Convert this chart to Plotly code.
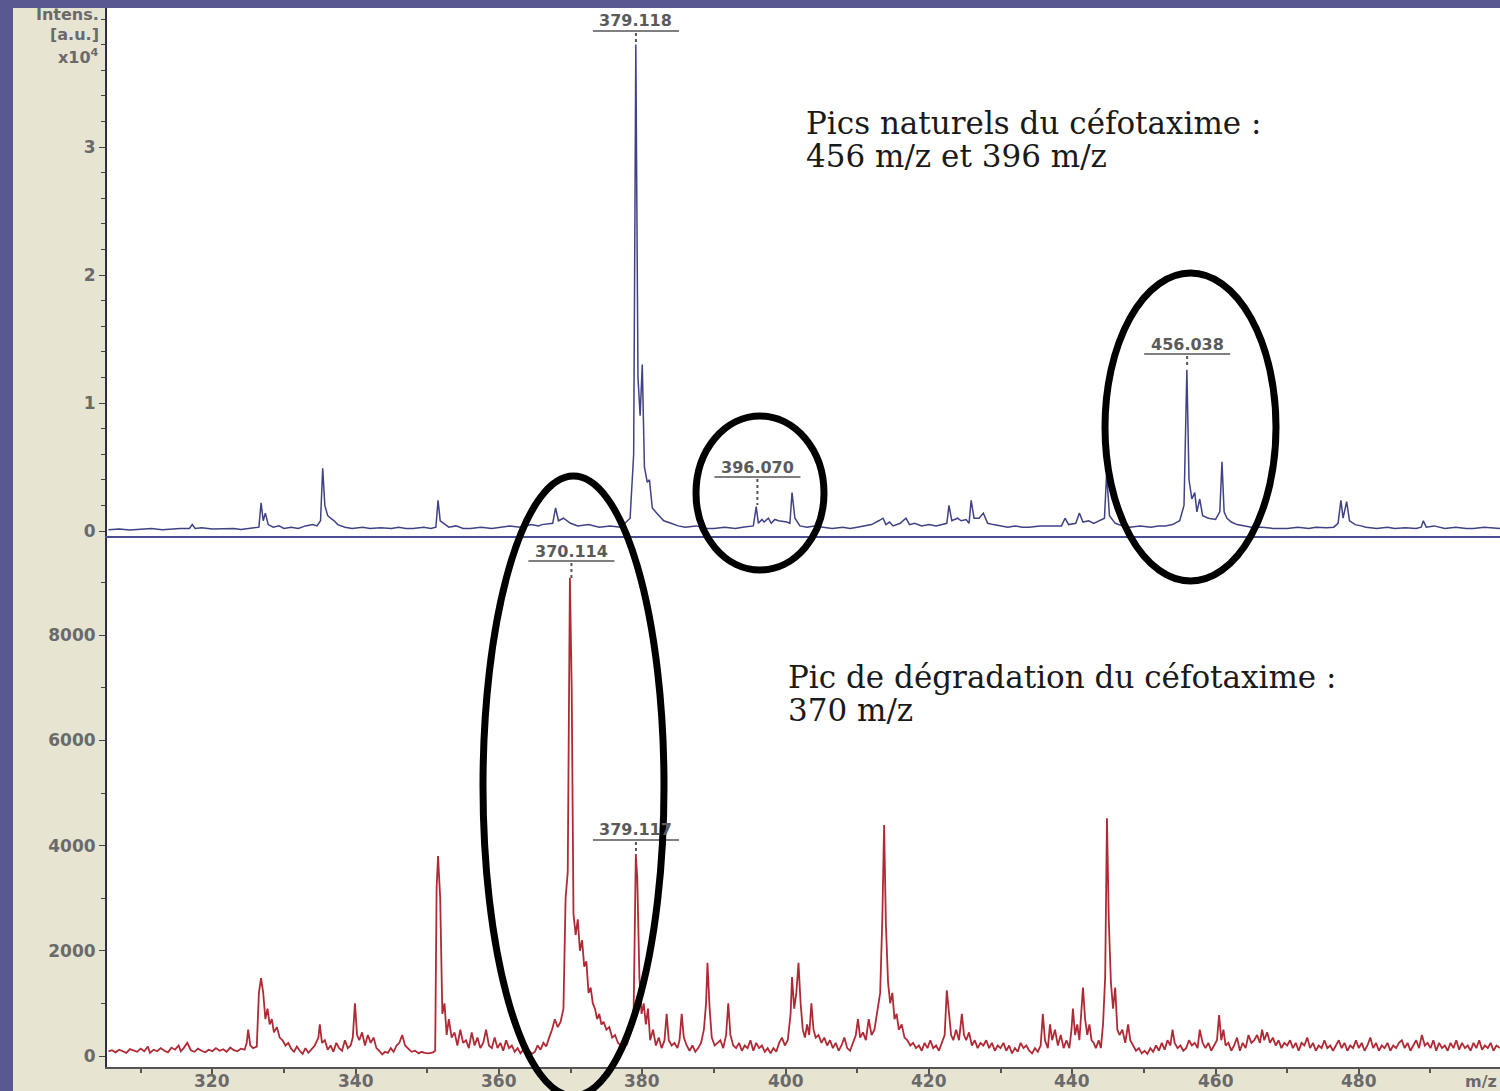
import plotly.graph_objects as go

# ---------------- DATA ----------------
x_tick_vals = [320, 340, 360, 380, 400, 420, 440, 460, 480]
x_tick_text = ["320", "340", "360", "380", "400", "420", "440", "460", "480"]
top_tick_vals = [0, 1, 2, 3]
bottom_tick_vals = [0, 2000, 4000, 6000, 8000]

# Top spectrum (blue), intensity in units of 1e4 a.u.
blue_spectrum = [
    (305.5, 0.01), (307, 0.015), (308.5, 0.008), (310, 0.012), (311.5, 0.02), (313, 0.01),
    (314, 0.015), (315.5, 0.02), (316.8, 0.02), (317.2, 0.05), (317.6, 0.02), (318.5, 0.025),
    (320, 0.015), (321.5, 0.02), (323, 0.02), (324, 0.012), (325, 0.02), (326.5, 0.03),
    (326.8, 0.22), (327.1, 0.08), (327.4, 0.14), (327.8, 0.05), (328.5, 0.03), (329.3, 0.04),
    (330, 0.02), (331, 0.03), (332, 0.02), (333, 0.04), (334, 0.05), (334.6, 0.04),
    (335.1, 0.08), (335.4, 0.49), (335.7, 0.2), (336.1, 0.12), (336.5, 0.1), (337, 0.08),
    (337.5, 0.05), (338.5, 0.03), (339.5, 0.02), (341, 0.03), (342, 0.02), (343.5, 0.025),
    (345, 0.02), (346, 0.03), (347, 0.02), (348, 0.02), (349.5, 0.03), (350.5, 0.02),
    (351.2, 0.03), (351.5, 0.24), (351.8, 0.08), (352.3, 0.06), (353, 0.03), (354, 0.04),
    (355, 0.02), (356, 0.02), (357.5, 0.03), (359, 0.02), (360, 0.03), (361.5, 0.04),
    (363, 0.03), (364.5, 0.05), (365.5, 0.04), (366, 0.05), (367.5, 0.06), (367.9, 0.18),
    (368.3, 0.08), (369, 0.1), (370, 0.06), (371, 0.04), (372.5, 0.05), (374, 0.03),
    (375.5, 0.04), (377, 0.03), (378.3, 0.1), (378.8, 0.6), (379.1, 3.80), (379.4, 1.2),
    (379.7, 0.9), (380.0, 1.3), (380.3, 0.5), (380.7, 0.38), (381.0, 0.4), (381.4, 0.18),
    (382, 0.14), (382.6, 0.1), (383, 0.08), (384, 0.06), (385, 0.04), (386, 0.03),
    (387.5, 0.04), (389, 0.02), (390, 0.02), (391.5, 0.03), (393, 0.02), (394, 0.03),
    (395.5, 0.04), (395.9, 0.19), (396.2, 0.06), (396.7, 0.09), (397, 0.07), (397.6, 0.1),
    (398, 0.06), (398.5, 0.09), (399, 0.08), (400.2, 0.07), (400.6, 0.06), (400.9, 0.3),
    (401.3, 0.1), (402, 0.04), (403, 0.03), (404, 0.04), (405, 0.03), (406.5, 0.02),
    (408, 0.03), (409, 0.02), (410, 0.03), (411, 0.04), (412, 0.05), (413, 0.08),
    (413.6, 0.1), (414, 0.05), (414.5, 0.07), (415, 0.04), (416, 0.06), (416.8, 0.1),
    (417.3, 0.05), (418, 0.06), (419, 0.04), (420, 0.05), (421, 0.04), (422.5, 0.06),
    (422.8, 0.2), (423.2, 0.08), (424, 0.1), (424.5, 0.08), (425.2, 0.09), (425.6, 0.06),
    (425.9, 0.24), (426.3, 0.1), (427, 0.1), (427.6, 0.14), (428.2, 0.06), (429, 0.05),
    (430, 0.04), (431, 0.03), (432, 0.04), (433, 0.03), (434, 0.03), (435.5, 0.04),
    (437, 0.04), (438.5, 0.04), (439, 0.1), (439.5, 0.05), (440.5, 0.06), (441, 0.14),
    (441.5, 0.07), (442.3, 0.08), (443, 0.06), (444.5, 0.1), (444.8, 0.45), (445.2, 0.12),
    (446, 0.06), (447, 0.04), (448, 0.03), (449.5, 0.04), (451, 0.03), (452, 0.04),
    (453, 0.04), (454, 0.05), (455, 0.08), (455.6, 0.2), (456.0, 1.26), (456.3, 0.4),
    (456.7, 0.25), (457.1, 0.3), (457.4, 0.15), (457.8, 0.25), (458.2, 0.12), (459, 0.1),
    (460, 0.09), (460.6, 0.15), (460.9, 0.54), (461.2, 0.15), (461.6, 0.1), (462.2, 0.07),
    (463, 0.05), (464, 0.04), (465, 0.03), (466.5, 0.03), (468, 0.02), (470, 0.02),
    (471.5, 0.03), (473, 0.02), (474, 0.03), (475.5, 0.025), (476.5, 0.03), (477.1, 0.06),
    (477.5, 0.24), (477.8, 0.1), (478.3, 0.23), (478.7, 0.08), (479.5, 0.05), (480.3, 0.04),
    (481, 0.03), (482.5, 0.02), (484, 0.03), (485, 0.02), (486.5, 0.025), (488, 0.02),
    (488.7, 0.03), (489, 0.08), (489.4, 0.03), (490.5, 0.04), (492, 0.02), (493.5, 0.03),
    (495, 0.02), (496, 0.02), (497.5, 0.03), (499.7, 0.02),
]

# Bottom spectrum (red), intensity in a.u.
red_spectrum = [
    (305.5, 90), (306, 110), (306.5, 70), (307, 120), (307.5, 90), (308, 60), (308.5, 130),
    (309, 100), (309.5, 80), (310, 140), (310.5, 90), (311, 180), (311.3, 60), (311.8, 120),
    (312.3, 90), (312.8, 150), (313.3, 100), (313.8, 70), (314.3, 160), (314.8, 120),
    (315.3, 200), (315.6, 90), (316, 150), (316.5, 250), (317, 110), (317.5, 80), (318, 140),
    (318.5, 100), (319, 70), (319.5, 120), (320, 90), (320.5, 150), (321, 100), (321.5, 130),
    (322, 80), (322.5, 160), (323, 110), (323.5, 90), (324, 140), (324.5, 120), (324.8, 250),
    (325, 500), (325.3, 200), (325.7, 150), (326.2, 180), (326.5, 1200), (326.8, 1480),
    (327.1, 1200), (327.4, 700), (327.7, 900), (328, 600), (328.3, 700), (328.6, 450),
    (329, 550), (329.4, 350), (329.8, 300), (330.2, 200), (330.6, 250), (331, 140),
    (331.4, 80), (331.8, 180), (332.2, 100), (332.6, 40), (333, 150), (333.4, 60),
    (333.8, 120), (334.3, 200), (334.8, 350), (335, 600), (335.3, 250), (335.7, 300),
    (336.1, 120), (336.5, 200), (336.9, 80), (337.3, 250), (337.7, 150), (338.1, 100),
    (338.5, 300), (338.9, 150), (339.3, 200), (339.6, 350), (339.9, 1000), (340.2, 400),
    (340.5, 300), (340.9, 450), (341.3, 200), (341.7, 400), (342.1, 250), (342.5, 350),
    (342.9, 150), (343.3, 100), (343.7, 30), (344.1, 80), (344.5, 60), (344.9, 150),
    (345.3, 80), (345.7, 200), (346.1, 250), (346.5, 400), (346.9, 200), (347.3, 150),
    (347.8, 80), (348.3, 100), (348.8, 50), (349.2, 80), (349.6, 60), (350.2, 50),
    (350.8, 70), (351.1, 100), (351.3, 3200), (351.5, 3800), (351.8, 3000), (352.1, 800),
    (352.4, 1000), (352.7, 400), (353, 700), (353.4, 350), (353.8, 450), (354.2, 200),
    (354.6, 500), (355, 250), (355.4, 300), (355.8, 150), (356.2, 450), (356.6, 200),
    (357, 350), (357.4, 150), (357.8, 250), (358.2, 500), (358.6, 200), (359, 150),
    (359.4, 350), (359.8, 150), (360.2, 250), (360.6, 100), (361, 300), (361.4, 150),
    (361.8, 200), (362.2, 80), (362.6, 150), (363, 50), (363.4, 120), (363.8, 60),
    (364.2, 100), (364.6, 40), (365, 80), (365.4, 200), (365.8, 120), (366.2, 250),
    (366.6, 180), (367, 350), (367.4, 500), (367.8, 700), (368.2, 550), (368.6, 650),
    (369, 900), (369.3, 3000), (369.6, 3500), (369.9, 9090), (370.15, 7000), (370.4, 2700),
    (370.7, 2300), (371, 2600), (371.3, 2000), (371.6, 2200), (371.9, 1700), (372.2, 1800),
    (372.5, 1200), (372.8, 1300), (373.1, 1000), (373.4, 900), (373.7, 700), (374, 800),
    (374.3, 600), (374.6, 650), (375, 500), (375.4, 550), (375.8, 350), (376.2, 400),
    (376.6, 250), (377, 200), (377.4, 300), (377.8, 200), (378.2, 350), (378.5, 500),
    (378.8, 900), (379.1, 3820), (379.3, 3400), (379.6, 1500), (379.9, 800), (380.2, 1000),
    (380.5, 600), (380.8, 900), (381.1, 300), (381.5, 500), (381.9, 200), (382.3, 350),
    (382.7, 150), (383.1, 300), (383.4, 800), (383.7, 300), (384.1, 200), (384.5, 250),
    (384.9, 150), (385.2, 300), (385.5, 800), (385.8, 350), (386.2, 200), (386.6, 100),
    (387, 200), (387.4, 80), (387.8, 150), (388.2, 250), (388.6, 500), (388.9, 1000),
    (389.1, 1770), (389.4, 900), (389.7, 350), (390.1, 200), (390.5, 250), (390.9, 300),
    (391.3, 150), (391.7, 400), (392, 1000), (392.3, 400), (392.7, 200), (393.1, 150),
    (393.5, 250), (393.9, 100), (394.3, 200), (394.7, 150), (395.1, 300), (395.5, 100),
    (395.9, 250), (396.3, 150), (396.7, 200), (397.1, 80), (397.5, 150), (397.9, 50),
    (398.3, 150), (398.7, 80), (399.1, 250), (399.5, 350), (399.9, 200), (400.3, 300),
    (400.7, 800), (400.9, 1500), (401.2, 900), (401.5, 1200), (401.8, 1770), (402.1, 1000),
    (402.4, 500), (402.7, 350), (403, 600), (403.3, 400), (403.6, 1000), (403.9, 500),
    (404.2, 350), (404.6, 400), (405, 250), (405.4, 350), (405.8, 200), (406.2, 300),
    (406.6, 150), (407, 250), (407.4, 100), (407.8, 200), (408.2, 350), (408.6, 150),
    (409, 100), (409.4, 250), (409.8, 400), (410.1, 700), (410.4, 350), (410.8, 450),
    (411.2, 300), (411.6, 700), (412, 400), (412.4, 500), (412.8, 900), (413.2, 1200),
    (413.5, 2600), (413.75, 4390), (414, 2500), (414.3, 1400), (414.6, 1000), (414.9, 1200),
    (415.2, 700), (415.5, 800), (415.8, 500), (416.2, 600), (416.6, 350), (417, 300),
    (417.4, 200), (417.8, 250), (418.2, 150), (418.6, 200), (419, 100), (419.4, 250),
    (419.8, 150), (420.2, 300), (420.6, 150), (421, 200), (421.4, 100), (421.8, 250),
    (422.2, 400), (422.5, 1250), (422.8, 800), (423.1, 400), (423.4, 300), (423.8, 500),
    (424.2, 300), (424.6, 800), (424.9, 400), (425.2, 300), (425.6, 450), (426, 200),
    (426.4, 300), (426.8, 150), (427.2, 250), (427.6, 200), (428, 300), (428.4, 150),
    (428.8, 250), (429.2, 100), (429.6, 200), (430, 150), (430.4, 250), (430.8, 100),
    (431.2, 200), (431.6, 50), (432, 150), (432.4, 80), (432.8, 250), (433.2, 150),
    (433.6, 200), (434, 100), (434.4, 50), (434.8, 150), (435.2, 80), (435.6, 200),
    (435.9, 800), (436.2, 300), (436.6, 150), (436.9, 600), (437.2, 300), (437.6, 500),
    (438, 200), (438.4, 400), (438.8, 150), (439.2, 300), (439.6, 150), (439.9, 500),
    (440.1, 900), (440.4, 400), (440.7, 600), (441, 300), (441.3, 900), (441.5, 1300),
    (441.8, 700), (442.1, 400), (442.4, 600), (442.7, 300), (443, 250), (443.3, 150),
    (443.7, 300), (444, 150), (444.3, 600), (444.6, 1500), (444.85, 4520), (445.1, 2600),
    (445.4, 1400), (445.7, 900), (446, 1300), (446.3, 500), (446.6, 400), (447, 500),
    (447.4, 250), (447.8, 600), (448.1, 300), (448.5, 200), (448.9, 100), (449.3, 150),
    (449.7, 50), (450.1, 100), (450.5, 40), (450.9, 150), (451.3, 80), (451.7, 200),
    (452.1, 100), (452.5, 250), (452.9, 120), (453.3, 300), (453.7, 200), (454, 500),
    (454.3, 250), (454.7, 150), (455.1, 200), (455.5, 100), (455.9, 150), (456.3, 300),
    (456.7, 200), (457.1, 250), (457.5, 150), (457.8, 500), (458.2, 250), (458.6, 150),
    (459, 250), (459.4, 100), (459.8, 200), (460.2, 300), (460.5, 780), (460.8, 300),
    (461.1, 500), (461.4, 200), (461.8, 250), (462.2, 100), (462.6, 200), (463, 350),
    (463.4, 100), (463.8, 250), (464.2, 150), (464.6, 400), (465, 250), (465.4, 300),
    (465.8, 400), (466.2, 250), (466.5, 500), (466.8, 300), (467.2, 450), (467.6, 250),
    (468, 350), (468.4, 200), (468.8, 300), (469.2, 150), (469.6, 250), (470, 200),
    (470.4, 300), (470.8, 150), (471.2, 250), (471.6, 100), (472, 250), (472.4, 200),
    (472.8, 350), (473.2, 150), (473.6, 250), (474, 100), (474.4, 200), (474.8, 150),
    (475.2, 300), (475.6, 150), (476, 200), (476.4, 100), (476.8, 200), (477.2, 300),
    (477.6, 150), (478, 250), (478.4, 100), (478.8, 200), (479.2, 150), (479.6, 300),
    (480, 150), (480.4, 250), (480.8, 100), (481.2, 200), (481.6, 350), (482, 150),
    (482.4, 250), (482.8, 100), (483.2, 200), (483.6, 150), (484, 250), (484.4, 100),
    (484.8, 200), (485.2, 150), (485.6, 250), (486, 300), (486.4, 150), (486.8, 250),
    (487.2, 100), (487.6, 200), (488, 300), (488.4, 150), (488.8, 400), (489.2, 200),
    (489.6, 250), (490, 150), (490.4, 300), (490.8, 100), (491.2, 250), (491.6, 150),
    (492, 200), (492.4, 100), (492.8, 250), (493.2, 150), (493.6, 300), (494, 120),
    (494.4, 250), (494.8, 150), (495.2, 200), (495.6, 100), (496, 250), (496.4, 150),
    (496.8, 300), (497.2, 120), (497.6, 200), (498, 150), (498.4, 250), (498.8, 100),
    (499.2, 200), (499.7, 150),
]

# Labelled peaks: (m/z, label text)
top_peak_labels = [(379.118, "379.118"), (396.070, "396.070"), (456.038, "456.038")]
bottom_peak_labels = [(370.114, "370.114"), (379.117, "379.117")]

# ---------------- LAYOUT HELPERS ----------------
W, H = 1500, 1091
ML, MR, MT, MB = 107, 0, 8, 24
PW, PH = W - ML - MR, H - MT - MB
PLOT_BOTTOM = H - MB


def px(x):
    return (x - ML) / PW


def py(y):
    return (PLOT_BOTTOM - y) / PH


split = py(536)

blue_mz = [p[0] for p in blue_spectrum]
blue_int = [p[1] for p in blue_spectrum]
red_mz = [p[0] for p in red_spectrum]
red_int = [p[1] for p in red_spectrum]

fig = go.Figure()
fig.add_trace(go.Scatter(x=blue_mz, y=blue_int, xaxis="x2", yaxis="y2", mode="lines",
                         line=dict(color="#3f4285", width=1.5), hoverinfo="skip", showlegend=False))
fig.add_trace(go.Scatter(x=red_mz, y=red_int, xaxis="x", yaxis="y", mode="lines",
                         line=dict(color="#b02a36", width=1.8), hoverinfo="skip", showlegend=False))

sans = "DejaVu Sans, Arial, sans-serif"
tickfont = dict(family=sans, size=17, color="#6a6a6a", weight="bold")
xr = [305.3, 499.7]

fig.update_layout(
    width=W, height=H,
    margin=dict(l=ML, r=MR, t=MT, b=MB, autoexpand=False),
    paper_bgcolor="#e8e4d2",
    plot_bgcolor="#ffffff",
    showlegend=False,
    xaxis=dict(domain=[0, 1], range=xr, anchor="y", tickvals=x_tick_vals, showticklabels=False,
               ticks="outside", ticklen=5, tickcolor="#555555", tickwidth=1.5, showline=True,
               linecolor="#555555", linewidth=2, showgrid=False, zeroline=False,
               minor=dict(dtick=10, tick0=300, ticks="outside", ticklen=4, tickcolor="#555555")),
    xaxis2=dict(domain=[0, 1], range=xr, anchor="y2", matches="x", showticklabels=False,
                ticks="", showline=True, linecolor="#4a4e92", linewidth=2,
                showgrid=False, zeroline=False),
    yaxis=dict(domain=[0, split], range=[-209, 9886], tickvals=bottom_tick_vals, ticks="outside",
               ticklen=6, tickcolor="#444444", showline=True, linecolor="#2c2c55", linewidth=2,
               showgrid=False, zeroline=False, tickfont=tickfont,
               minor=dict(dtick=1000, ticks="outside", ticklen=4, tickcolor="#444444")),
    yaxis2=dict(domain=[split, 1], range=[-0.039, 4.086], tickvals=top_tick_vals, ticks="outside",
                ticklen=6, tickcolor="#444444", showline=True, linecolor="#2c2c55", linewidth=2,
                showgrid=False, zeroline=False, tickfont=tickfont,
                minor=dict(dtick=0.2, ticks="outside", ticklen=4, tickcolor="#444444")),
)

shapes = []
purple = "#5a5890"
shapes.append(dict(type="rect", xref="paper", yref="paper", x0=px(-5), x1=px(13), y0=py(H + 5),
                   y1=py(-5), fillcolor=purple, line=dict(width=0), layer="below"))
shapes.append(dict(type="rect", xref="paper", yref="paper", x0=px(-5), x1=px(W + 5), y0=py(8),
                   y1=py(-5), fillcolor=purple, line=dict(width=0), layer="below"))

annotations = []

# x tick labels placed through the x axis scale
for v, t in zip(x_tick_vals, x_tick_text):
    annotations.append(dict(x=v, y=py(1081), xref="x", yref="paper", text=t, showarrow=False,
                            font=tickfont, xanchor="center", yanchor="middle"))

label_font = dict(family=sans, size=16, color="#5a5a5a", weight="bold")
top_label_rows = {379.118: (21, 45), 396.070: (467, 505), 456.038: (344, 368)}
bottom_label_rows = {370.114: (551, 578), 379.117: (830, 855)}

for axis, labels, rows in [("x2", top_peak_labels, top_label_rows),
                           ("x", bottom_peak_labels, bottom_label_rows)]:
    for mz, txt in labels:
        ty, peak_y = rows[mz]
        annotations.append(dict(x=mz, y=py(ty), xref=axis, yref="paper", text=txt, showarrow=False,
                                font=label_font, xanchor="center", yanchor="middle"))
        shapes.append(dict(type="line", xref=axis, yref="paper", x0=mz - 6, x1=mz + 6,
                           y0=py(ty + 10), y1=py(ty + 10), line=dict(color="#555555", width=1.5)))
        shapes.append(dict(type="line", xref=axis, yref="paper", x0=mz, x1=mz,
                           y0=py(ty + 12), y1=py(peak_y),
                           line=dict(color="#555555", width=2, dash="dot")))

unit_font = dict(family=sans, size=16, color="#6a6a6a", weight="bold")
for txt, yy in [("Intens.", 15), ("[a.u.]", 34), ("x10<sup>4</sup>", 56)]:
    annotations.append(dict(x=px(101), y=py(yy), xref="paper", yref="paper", text=txt,
                            showarrow=False, font=unit_font, xanchor="right", yanchor="middle"))
annotations.append(dict(x=px(1499), y=py(1081), xref="paper", yref="paper", text="m/z",
                        showarrow=False, font=unit_font, xanchor="right", yanchor="middle"))

serif = dict(family="DejaVu Serif, Liberation Serif, serif", size=31, color="#1a1a1a")
for txt, xx, yy in [("Pics naturels du céfotaxime :", 804, 123),
                    ("456 m/z et 396 m/z", 804, 156),
                    ("Pic de dégradation du céfotaxime :", 786, 677),
                    ("370 m/z", 786, 710)]:
    annotations.append(dict(x=px(xx), y=py(yy), xref="paper", yref="paper", text=txt,
                            showarrow=False, font=serif, xanchor="left", yanchor="middle"))

for x0, x1, y0, y1 in [(483, 664, 476, 1096), (696, 824, 416, 570), (1105, 1276, 273, 581)]:
    shapes.append(dict(type="circle", xref="paper", yref="paper", x0=px(x0), x1=px(x1),
                       y0=py(y1), y1=py(y0), line=dict(color="#000000", width=7), layer="above"))

fig.update_layout(shapes=shapes, annotations=annotations)
fig.write_html("out.html")
